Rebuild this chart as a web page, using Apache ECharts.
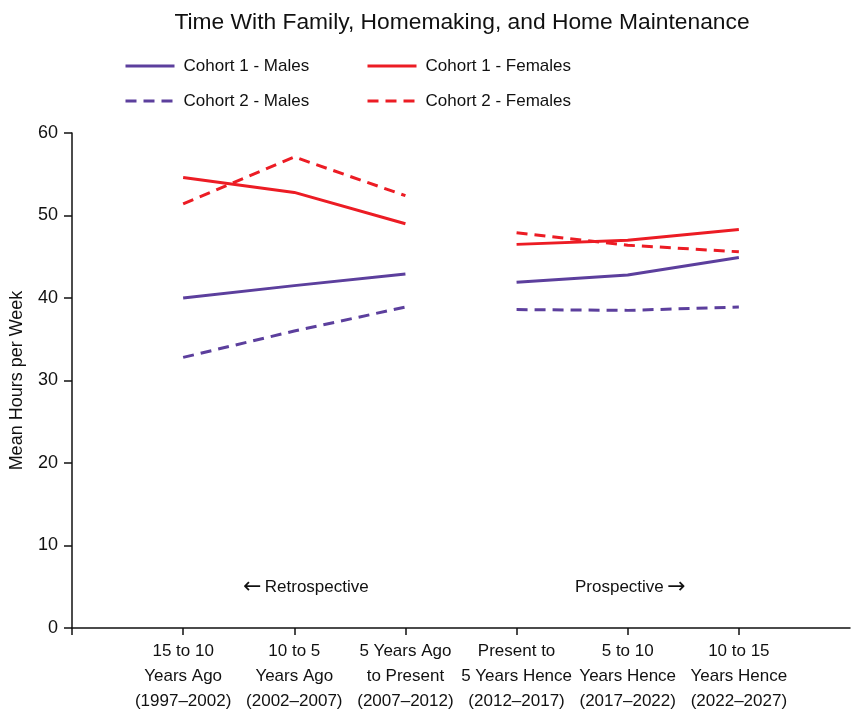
<!DOCTYPE html>
<html>
<head>
<meta charset="utf-8">
<script src="https://cdn.jsdelivr.net/npm/echarts@6/dist/echarts.min.js"></script>
<style>
  html, body { margin: 0; padding: 0; background: #fff; }
  #chart { width: 852px; height: 712px; }
</style>
</head>
<body>
<div id="chart"></div>
<script>
// Time periods (x positions 1..6); first three retrospective, last three prospective
const periods = [
  '15 to 10\nYears Ago\n(1997–2002)',
  '10 to 5\nYears Ago\n(2002–2007)',
  '5 Years Ago\nto Present\n(2007–2012)',
  'Present to\n5 Years Hence\n(2012–2017)',
  '5 to 10\nYears Hence\n(2017–2022)',
  '10 to 15\nYears Hence\n(2022–2027)'
];
const yTicks = [0, 10, 20, 30, 40, 50, 60];

// Mean hours per week
const cohort1Males   = [40.0, 41.5, 42.9, 41.9, 42.8, 44.9];
const cohort2Males   = [32.8, 36.0, 38.9, 38.6, 38.5, 38.9];
const cohort1Females = [54.6, 52.8, 49.0, 46.5, 47.0, 48.3];
const cohort2Females = [51.4, 57.1, 52.4, 47.9, 46.4, 45.6];

const PURPLE = '#5c3f9d';
const RED = '#ec1c24';
const FONT = '"Liberation Sans", Arial, sans-serif';

// Build x/y pairs with a gap between the retrospective and prospective segments
function toPoints(values) {
  const pts = [];
  values.forEach((v, i) => {
    if (i === 3) pts.push([3.5, '-']);
    pts.push([i + 1, v]);
  });
  return pts;
}

function lineSeries(name, values, color, dashed) {
  return {
    name: name,
    type: 'line',
    data: toPoints(values),
    symbol: 'none',
    connectNulls: false,
    lineStyle: { color: color, width: 3, type: dashed ? [11, 7] : 'solid' },
    itemStyle: { color: color },
    silent: true
  };
}

const legendBase = {
  orient: 'vertical', top: 51,
  itemWidth: 49, itemHeight: 14, itemGap: 15,
  itemStyle: { opacity: 0 },
  lineStyle: { width: 3 },
  textStyle: { fontFamily: FONT, fontSize: 17, color: '#111', lineHeight: 20, padding: [0, 0, 0, 4] }
};

// Direction labels: a wide arrow next to the word
const arrowRich = {
  arr: { fontFamily: '"DejaVu Sans", sans-serif', fontSize: 22, fill: '#111', lineHeight: 22 },
  txt: { fontFamily: FONT, fontSize: 17, fill: '#111', lineHeight: 22 }
};

const chart = echarts.init(document.getElementById('chart'));
chart.setOption({
  animation: false,
  textStyle: { fontFamily: FONT },
  title: {
    text: 'Time With Family, Homemaking, and Home Maintenance',
    left: 457, top: 6, textAlign: 'center',
    textStyle: { fontFamily: FONT, fontSize: 22.8, fontWeight: 'normal', color: '#111' }
  },
  legend: [
    Object.assign({ data: ['Cohort 1 - Males', 'Cohort 2 - Males'], left: 119 }, legendBase),
    Object.assign({ data: ['Cohort 1 - Females', 'Cohort 2 - Females'], left: 361 }, legendBase)
  ],
  grid: { left: 72, right: 2, top: 133, bottom: 84, containLabel: false, outerBoundsMode: 'none' },
  xAxis: {
    type: 'value', min: 0, max: 7, interval: 1,
    splitLine: { show: false },
    axisLine: { onZero: false, lineStyle: { color: '#111', width: 1.5 } },
    axisTick: { show: true, length: 7, customValues: [0, 1, 2, 3, 4, 5, 6], lineStyle: { color: '#111', width: 1.5 } },
    axisLabel: {
      customValues: [1, 2, 3, 4, 5, 6],
      formatter: v => periods[v - 1] || '',
      fontFamily: FONT, fontSize: 17, color: '#111', lineHeight: 25, margin: 11
    }
  },
  yAxis: {
    type: 'value', min: 0, max: 60, interval: 10,
    name: 'Mean Hours per Week', nameLocation: 'middle', nameGap: 46,
    nameTextStyle: { fontFamily: FONT, fontSize: 18, color: '#111' },
    splitLine: { show: false },
    axisLine: { show: true, lineStyle: { color: '#111', width: 1.5 } },
    axisTick: { show: true, length: 8, lineStyle: { color: '#111', width: 1.5 } },
    axisLabel: {
      formatter: v => (yTicks.includes(v) ? String(v) : ''),
      fontFamily: FONT, fontSize: 18, color: '#111', margin: 14
    }
  },
  series: [
    lineSeries('Cohort 1 - Males', cohort1Males, PURPLE, false),
    lineSeries('Cohort 2 - Males', cohort2Males, PURPLE, true),
    lineSeries('Cohort 1 - Females', cohort1Females, RED, false),
    lineSeries('Cohort 2 - Females', cohort2Females, RED, true)
  ],
  graphic: [
    { type: 'text', left: 243, top: 576, style: { text: '{arr|←} {txt|Retrospective}', rich: arrowRich } },
    { type: 'text', left: 575, top: 576, style: { text: '{txt|Prospective} {arr|→}', rich: arrowRich } }
  ]
});
</script>
</body>
</html>
